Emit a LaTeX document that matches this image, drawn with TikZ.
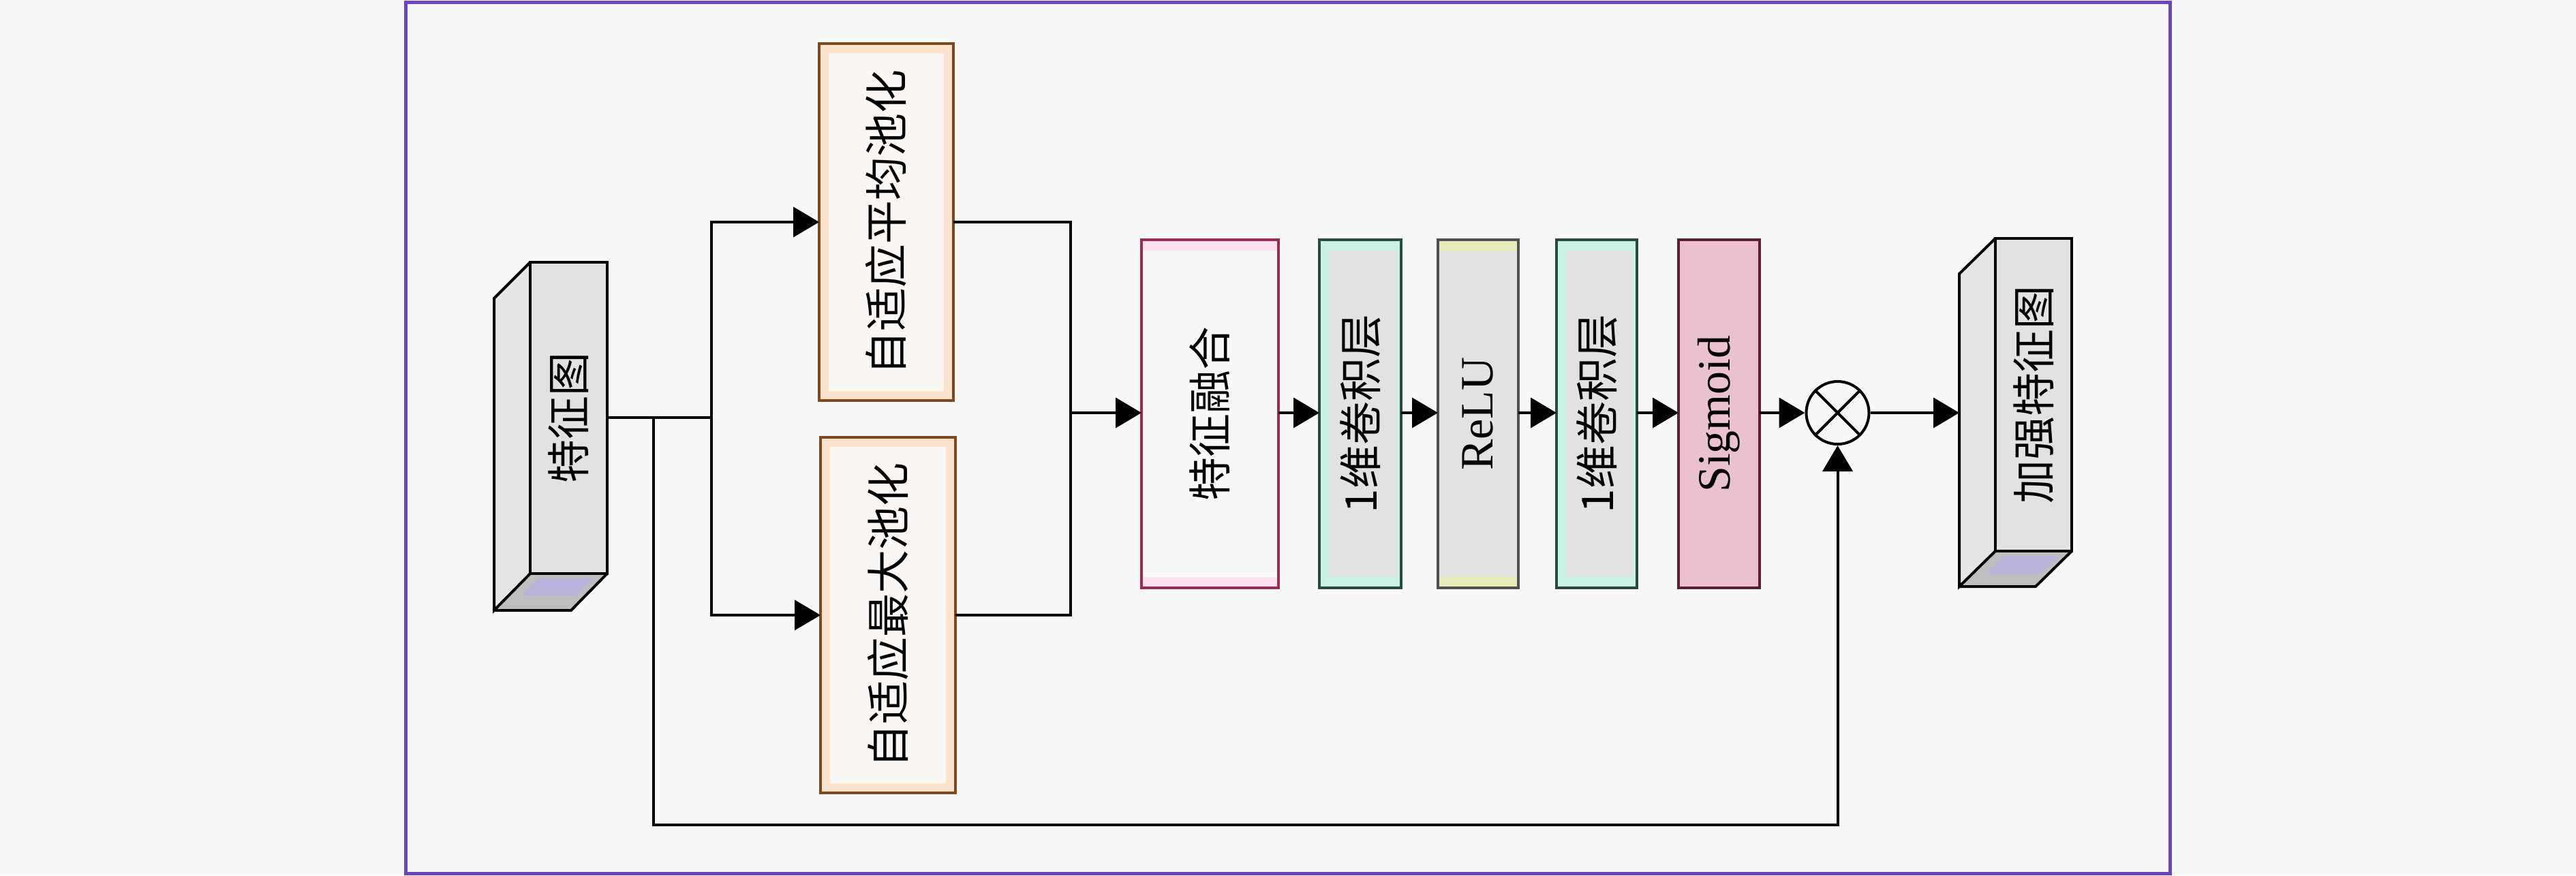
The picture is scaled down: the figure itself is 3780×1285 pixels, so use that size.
\documentclass[tikz,border=0pt]{standalone}
\usepackage{fontspec}
\usepackage{graphicx}
\setmainfont{Liberation Serif}
\newfontfamily\cjk{Noto Sans CJK SC}
\usetikzlibrary{arrows.meta,calc}
\definecolor{bgc}{HTML}{F8F8F8}
\definecolor{framec}{HTML}{6A45C0}
\definecolor{grayf}{HTML}{E2E2E2}
\definecolor{sidef}{HTML}{E6E6E6}
\definecolor{botg}{HTML}{BEBEBE}
\definecolor{lav}{HTML}{B8B4DE}
\definecolor{poolb}{HTML}{7A4A1E}
\definecolor{peach}{HTML}{FDE2CC}
\definecolor{poolf}{HTML}{FAF7F5}
\definecolor{fuseb}{HTML}{9C2A52}
\definecolor{pinkband}{HTML}{FFE2EF}
\definecolor{convb}{HTML}{2A4A40}
\definecolor{mint}{HTML}{C8F2E2}
\definecolor{relub}{HTML}{505050}
\definecolor{yel}{HTML}{E8ECB8}
\definecolor{sigf}{HTML}{EBC0CF}
\definecolor{sigb}{HTML}{5A2030}
\tikzset{
  conn/.style={line width=4pt, draw=black},
  arr/.style={conn, -{Triangle[length=38pt,width=44pt]}},
  blk/.style={inner sep=0pt, outer sep=0pt, minimum height=511pt},
  cjkfont/.style={font=\cjk\fontsize{64}{64}\selectfont},
  latfont/.style={font=\fontsize{68}{68}\selectfont},
  edge/.style={line width=4pt, line join=miter}
}
\newcommand\vtext[1]{\rotatebox{90}{#1}}
\begin{document}
\begin{tikzpicture}[x=1pt,y=-1pt]
\useasboundingbox (0,0) rectangle (3780,1285);
\fill[bgc] (0,0) rectangle (3780,1285);
\draw[framec, line width=5pt] (595,3) rectangle (3184,1282);

% ---- input feature map (3D box)
\fill[sidef] (778,385) -- (725,438) -- (725,896) -- (778,842) -- cycle;
\fill[botg] (778,842) -- (891,842) -- (838,896) -- (725,896) -- cycle;
\fill[lav] (790,849) -- (870,849) -- (845,874) -- (765,874) -- cycle;
\node[blk, cjkfont, fill=grayf, minimum width=113pt, minimum height=457pt] (fm) at (834.5,613.5) {\vtext{特征图}};
\draw[edge] (778,385) -- (725,438) -- (725,896) -- (778,842);
\draw[edge] (725,896) -- (838,896) -- (891,842);
\draw[edge] (fm.north west) rectangle (fm.south east);

% ---- pooling boxes
\node[blk, cjkfont, fill=poolf, minimum width=197pt, minimum height=524pt] (avg) at (1300.5,326) {};
\node[blk, cjkfont, fill=poolf, minimum width=198pt, minimum height=522pt] (max) at (1303,903) {};
\foreach \n in {avg,max}{
  \draw[peach, line width=12pt] ($(\n.north west)+(8,8)$) rectangle ($(\n.south east)+(-8,-8)$);
  \draw[poolb, edge] (\n.north west) rectangle (\n.south east);
}
\node[cjkfont] at (avg) {\vtext{自适应平均池化}};
\node[cjkfont] at (max) {\vtext{自适应最大池化}};

% ---- processing blocks
\node[blk, fill=bgc, minimum width=201pt] (fuse) at (1775.5,607.5) {};
\node[blk, fill=grayf, minimum width=120pt] (conv1) at (1996,607.5) {};
\node[blk, fill=grayf, minimum width=118pt] (relu) at (2169,607.5) {};
\node[blk, fill=grayf, minimum width=118pt] (conv2) at (2343,607.5) {};
\node[blk, fill=sigf, minimum width=119pt] (sig) at (2522.5,607.5) {};
\foreach \n/\bc in {fuse/pinkband, conv1/mint, relu/yel, conv2/mint}{
  \fill[\bc] (\n.north west) rectangle ($(\n.north east)+(0,16)$);
  \fill[\bc] ($(\n.south west)+(0,-16)$) rectangle (\n.south east);
}
\foreach \n in {conv1,conv2}{
  \fill[mint] (\n.north west) rectangle ($(\n.south west)+(14,0)$);
  \fill[mint] ($(\n.north east)+(-6,0)$) rectangle (\n.south east);
}
\draw[fuseb, edge] (fuse.north west) rectangle (fuse.south east);
\draw[convb, edge] (conv1.north west) rectangle (conv1.south east);
\draw[relub, edge] (relu.north west) rectangle (relu.south east);
\draw[convb, edge] (conv2.north west) rectangle (conv2.south east);
\draw[sigb, edge] (sig.north west) rectangle (sig.south east);
\node[cjkfont] at (fuse) {\vtext{特征融合}};
\node[cjkfont] at (conv1) {\vtext{1维卷积层}};
\node[latfont] at (relu) {\vtext{ReLU}};
\node[cjkfont] at (conv2) {\vtext{1维卷积层}};
\node[latfont] at (sig) {\vtext{Sigmoid}};

% ---- multiply
\node[circle, draw, line width=4pt, fill=bgc, minimum size=92pt, inner sep=0pt] (mul) at (2696.5,606) {};
\draw[line width=4pt] (mul.north east) -- (mul.south west) (mul.north west) -- (mul.south east);

% ---- output feature map (3D box)
\fill[sidef] (2928,350) -- (2875,402) -- (2875,861) -- (2928,809) -- cycle;
\fill[botg] (2928,809) -- (3040,809) -- (2987,861) -- (2875,861) -- cycle;
\fill[lav] (2940,816) -- (3020,816) -- (2995,841) -- (2915,841) -- cycle;
\node[blk, cjkfont, fill=grayf, minimum width=112pt, minimum height=459pt] (out) at (2984,579.5) {\vtext{加强特征图}};
\draw[edge] (2928,350) -- (2875,402) -- (2875,861) -- (2928,809);
\draw[edge] (2875,861) -- (2987,861) -- (3040,809);
\draw[edge] (out.north west) rectangle (out.south east);
\coordinate (outin) at (2875,606);

% ---- connectors
\coordinate (split) at (1044,613);
\coordinate (skip) at (959,613);
\coordinate (merge) at (1571,606);
\draw[conn] (fm.east |- split) -- (split);
\draw[arr] (split) |- (avg.west);
\draw[arr] (split) |- (max.west);
\draw[conn] (avg.east) -| (merge);
\draw[conn] (max.east) -| (merge);
\draw[arr] (merge) -- (fuse.west |- merge);
\draw[arr] (skip) -- ++(0,598) -| (mul.south);
\draw[arr] (fuse.east |- mul) -- (conv1.west |- mul);
\draw[arr] (conv1.east |- mul) -- (relu.west |- mul);
\draw[arr] (relu.east |- mul) -- (conv2.west |- mul);
\draw[arr] (conv2.east |- mul) -- (sig.west |- mul);
\draw[arr] (sig.east |- mul) -- (mul.west);
\draw[arr] (mul.east) -- (outin);
\end{tikzpicture}
\end{document}
